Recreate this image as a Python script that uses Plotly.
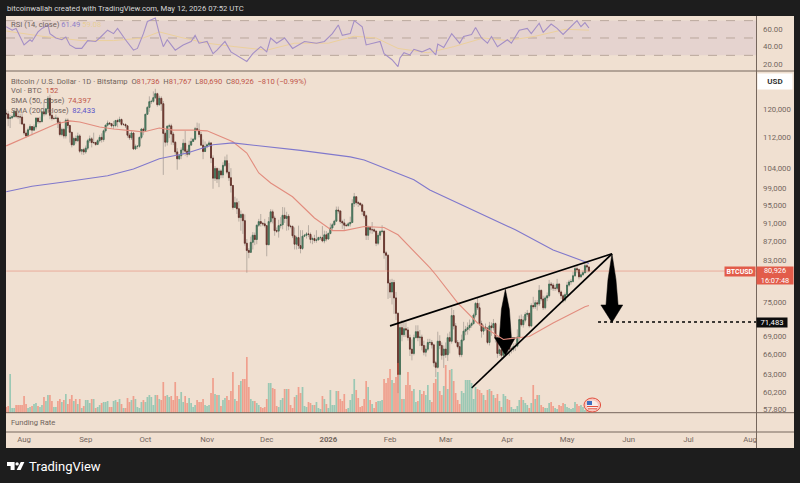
import pandas as pd
import plotly.graph_objects as go

# Prices in thousands of USD, daily from 2025-07-23 to 2026-05-12
start_date = "2025-07-23"
end_date = "2026-05-12"

open_k = [
118.9,118.7,117.4,117.6,117.9,119.4,118.0,117.9,117.8,
115.8,113.3,112.5,114.2,115.1,114.1,115.0,117.5,116.5,116.5,119.3,118.7,120.2,123.3,118.3,117.4,117.4,117.5,116.3,112.9,114.3,112.5,116.9,115.4,113.5,110.1,111.8,111.2,112.5,108.4,108.8,
108.2,109.2,111.2,111.7,110.7,110.7,110.2,111.2,112.1,111.5,113.9,115.5,116.1,115.9,115.3,115.4,116.8,116.5,117.1,115.7,115.7,115.3,112.7,112.0,113.3,109.0,109.7,109.7,112.1,114.4,
114.0,118.6,120.6,122.3,122.4,123.5,124.7,121.4,123.3,121.7,113.2,110.8,115.2,115.3,113.0,110.8,108.2,106.4,107.2,108.7,110.5,108.4,107.6,110.0,111.0,111.6,114.5,114.1,112.9,110.0,108.3,
109.6,110.1,110.6,106.6,101.5,103.9,101.3,103.3,102.3,104.7,105.9,103.0,101.6,99.7,94.5,95.6,94.2,92.2,92.9,91.5,86.6,85.1,84.7,86.8,88.3,87.4,90.5,91.3,90.9,90.8,
90.4,86.3,91.3,93.5,92.1,89.3,89.2,90.4,90.6,92.7,92.0,92.5,90.3,90.2,88.2,86.4,87.8,86.1,85.5,88.1,88.3,88.6,88.5,87.4,87.6,87.2,87.3,87.8,87.8,87.1,88.4,
87.5,88.7,89.9,90.6,91.4,93.9,93.7,91.3,91.0,90.5,90.4,90.8,91.1,95.4,97.0,95.6,95.5,95.1,93.6,92.6,88.3,90.0,89.5,89.5,89.2,86.6,88.3,89.1,89.2,84.6,84.1,
78.6,76.9,78.7,75.8,73.0,62.9,70.5,69.3,70.3,70.1,68.8,66.9,66.2,68.8,69.8,68.8,68.9,67.5,66.4,66.9,68.0,68.0,67.6,64.7,64.0,68.2,67.5,65.9,
66.9,66.0,68.8,68.2,72.6,70.8,68.0,67.3,66.0,68.4,69.9,70.2,70.5,70.9,71.2,72.7,74.8,74.0,71.2,69.9,70.6,70.4,68.0,70.8,70.5,71.2,68.7,66.2,66.8,65.9,66.7,
68.2,68.0,66.9,66.9,67.3,67.4,68.9,71.9,71.0,71.8,72.8,73.0,70.8,74.4,74.2,74.9,74.7,77.2,75.6,74.0,75.8,76.2,78.4,78.2,77.6,77.6,78.4,76.9,76.2,75.4,
76.4,78.2,78.8,78.9,80.0,81.4,81.2,79.8,80.2,80.6,82.0,81.736]

high_k = [
120.0,119.5,118.4,118.5,119.8,119.8,119.0,118.8,118.9,
116.0,114.0,114.8,115.7,115.0,115.7,117.7,117.6,117.9,119.5,122.2,120.3,124.0,124.4,119.2,118.0,118.5,117.9,116.8,114.8,114.7,117.4,117.4,115.6,113.6,112.3,112.6,113.4,113.0,109.0,109.3,
109.9,111.7,112.6,112.2,113.4,110.9,111.6,112.8,113.2,114.3,115.6,116.8,116.4,116.0,116.7,117.0,117.3,117.9,117.4,116.1,116.0,115.4,113.3,114.0,113.5,110.2,110.0,112.3,114.7,114.8,
118.7,121.0,123.9,122.9,125.4,126.2,125.0,124.1,123.9,122.5,113.7,115.4,115.9,115.9,113.6,111.0,109.2,107.5,109.4,111.6,113.9,109.0,111.2,112.0,111.9,115.0,116.2,116.0,113.6,111.5,111.0,
110.5,111.2,110.8,107.3,104.5,104.2,104.0,103.7,105.5,107.0,107.5,105.3,104.0,99.8,97.0,96.6,96.0,93.8,93.2,92.9,87.5,85.6,88.0,89.0,88.9,90.6,91.9,93.0,91.2,91.9,
90.4,92.3,94.1,94.0,92.6,90.0,91.7,92.3,94.6,94.5,93.5,93.0,90.6,90.5,90.0,88.2,90.4,89.4,89.4,88.6,89.0,90.5,88.9,88.0,88.4,89.4,88.0,88.2,90.3,89.3,89.2,
88.9,90.9,91.0,91.7,94.7,94.7,93.7,91.7,91.9,90.8,91.2,92.4,96.4,97.9,97.1,96.0,95.5,95.4,93.7,92.9,90.4,90.3,91.2,89.8,89.3,88.8,89.4,90.5,89.3,85.0,84.3,
79.3,79.4,79.2,76.9,73.2,71.4,71.8,71.5,71.4,70.6,69.3,68.5,69.3,70.9,70.9,70.1,69.3,68.3,67.5,68.6,68.6,68.4,67.8,65.0,69.8,69.2,68.0,67.5,
68.0,69.5,69.8,74.0,73.6,71.3,68.4,68.1,69.3,71.5,70.8,71.4,71.9,71.5,73.0,75.0,75.9,74.9,71.7,71.0,71.2,70.6,71.5,71.4,72.0,71.4,69.0,67.2,67.3,68.2,68.7,
69.2,68.4,67.3,67.8,67.9,70.2,72.6,72.8,72.5,73.2,73.6,73.1,74.8,76.0,75.4,75.4,78.2,77.4,76.2,76.2,76.8,79.2,78.8,78.6,78.3,79.4,78.6,77.2,76.5,76.8,
78.8,79.2,79.4,80.8,81.8,82.0,81.4,80.7,81.0,82.7,82.4,81.767]

low_k = [
117.3,115.2,114.7,117.2,117.8,117.5,117.2,115.8,115.7,
112.7,112.0,112.6,114.1,112.7,113.9,114.3,115.9,116.0,116.3,118.0,118.3,118.9,117.2,116.8,117.0,117.2,114.7,112.4,112.4,111.8,111.8,114.6,110.7,109.4,109.8,110.4,110.9,107.9,107.5,107.4,
107.7,108.7,110.6,109.4,110.3,109.8,110.0,110.7,110.7,110.9,113.4,115.1,115.6,114.8,114.4,114.9,114.9,116.2,115.3,115.3,114.7,112.0,111.4,111.4,108.7,108.7,109.0,109.3,111.6,112.7,
113.9,118.4,119.3,121.6,122.0,123.1,120.8,121.1,119.6,102.3,109.6,109.9,111.9,110.1,110.0,107.5,103.6,106.1,106.3,107.5,107.2,106.8,107.3,110.0,110.9,111.3,113.7,112.1,109.8,106.3,108.5,
109.2,109.7,105.3,98.9,100.8,100.3,99.3,101.5,101.5,104.3,102.5,100.8,98.0,94.0,94.6,93.0,91.3,89.3,88.6,86.1,80.6,83.5,84.6,85.3,86.2,86.4,90.1,90.2,90.3,90.0,
83.9,86.2,90.9,90.9,88.2,88.8,87.8,89.8,89.6,91.0,89.3,89.4,89.8,87.7,85.3,85.3,85.4,84.5,85.2,87.9,87.6,87.9,86.6,86.4,86.7,86.7,87.3,87.3,86.8,86.6,87.0,
87.4,88.5,89.3,90.4,91.3,93.1,90.8,89.7,89.5,90.2,90.2,90.2,91.0,94.6,95.0,94.6,94.9,92.8,92.0,87.3,87.3,88.7,88.6,88.9,86.0,86.2,87.3,88.7,83.4,81.1,75.6,
75.8,74.6,72.9,71.8,60.1,62.8,68.2,68.9,68.9,68.3,65.8,65.1,65.9,68.7,68.2,67.4,66.7,65.9,65.7,66.6,67.6,67.0,64.1,62.5,63.8,66.9,65.2,63.9,
65.5,65.0,66.2,67.8,70.2,67.8,67.0,65.6,65.6,68.2,69.2,69.3,70.0,70.5,71.0,72.3,73.6,70.8,68.8,69.3,70.0,67.7,67.5,69.1,70.0,68.0,65.5,65.8,65.2,65.7,66.4,
67.2,65.8,66.2,66.5,66.6,67.2,68.3,70.7,70.5,71.4,72.4,70.5,70.6,73.8,73.8,73.5,74.3,75.2,73.6,73.7,75.2,75.9,77.3,77.1,77.1,77.2,76.5,75.6,74.9,75.1,
76.1,77.9,78.3,78.7,79.8,80.5,79.3,79.6,80.0,80.4,80.6,80.69]

close_k = [
118.7,117.4,117.6,117.9,119.4,118.0,117.9,117.8,115.8,
113.3,112.5,114.2,115.1,114.1,115.0,117.5,116.5,116.5,119.3,118.7,120.2,123.3,118.3,117.4,117.4,117.5,116.3,112.9,114.3,112.5,116.9,115.4,113.5,110.1,111.8,111.2,112.5,108.4,108.8,108.2,
109.2,111.2,111.7,110.7,110.7,110.2,111.2,112.1,111.5,113.9,115.5,116.1,115.9,115.3,115.4,116.8,116.5,117.1,115.7,115.7,115.3,112.7,112.0,113.3,109.0,109.7,109.7,112.1,114.4,114.0,
118.6,120.6,122.3,122.4,123.5,124.7,121.4,123.3,121.7,113.2,110.8,115.2,115.3,113.0,110.8,108.2,106.4,107.2,108.7,110.5,108.4,107.6,110.0,111.0,111.6,114.5,114.1,112.9,110.0,108.3,109.6,
110.1,110.6,106.6,101.5,103.9,101.3,103.3,102.3,104.7,105.9,103.0,101.6,99.7,94.5,95.6,94.2,92.2,92.9,91.5,86.6,85.1,84.7,86.8,88.3,87.4,90.5,91.3,90.9,90.8,90.4,
86.3,91.3,93.5,92.1,89.3,89.2,90.4,90.6,92.7,92.0,92.5,90.3,90.2,88.2,86.4,87.8,86.1,85.5,88.1,88.3,88.6,88.5,87.4,87.6,87.2,87.3,87.8,87.8,87.1,88.4,87.5,
88.7,89.9,90.6,91.4,93.9,93.7,91.3,91.0,90.5,90.4,90.8,91.1,95.4,97.0,95.6,95.5,95.1,93.6,92.6,88.3,90.0,89.5,89.5,89.2,86.6,88.3,89.1,89.2,84.6,84.1,78.6,
76.9,78.7,75.8,73.0,62.9,70.5,69.3,70.3,70.1,68.8,66.9,66.2,68.8,69.8,68.8,68.9,67.5,66.4,66.9,68.0,68.0,67.6,64.7,64.0,68.2,67.5,65.9,66.9,
66.0,68.8,68.2,72.6,70.8,68.0,67.3,66.0,68.4,69.9,70.2,70.5,70.9,71.2,72.7,74.8,74.0,71.2,69.9,70.6,70.4,68.0,70.8,70.5,71.2,68.7,66.2,66.8,65.9,66.7,68.2,
68.0,66.9,66.9,67.3,67.4,68.9,71.9,71.0,71.8,72.8,73.0,70.8,74.4,74.2,74.9,74.7,77.2,75.6,74.0,75.8,76.2,78.4,78.2,77.6,77.6,78.4,76.9,76.2,75.4,76.4,
78.2,78.8,78.9,80.0,81.4,81.2,79.8,80.2,80.6,82.0,81.736,80.926]

# Volume, hundreds of BTC
volume_h = [
6,7,39,5,5,8,8,8,8,
17,9,5,6,7,9,10,7,6,8,16,12,18,18,12,6,6,12,14,11,13,19,9,14,18,12,14,9,14,5,7,
13,13,10,14,14,5,6,8,10,11,11,12,6,6,12,13,11,14,9,5,5,15,11,13,17,14,6,5,11,13,
11,16,18,16,8,18,18,14,13,31,17,18,16,17,13,31,17,14,21,11,17,10,15,10,6,8,13,11,11,14,8,
7,8,20,35,19,18,18,7,13,15,17,13,22,41,14,12,28,32,34,34,56,26,14,12,12,10,8,6,5,6,
14,30,30,25,24,7,6,13,15,24,24,24,8,5,16,18,26,20,26,7,6,11,10,8,8,11,5,4,17,14,9,
5,23,8,8,22,22,14,12,19,4,5,13,19,34,23,15,6,7,14,32,26,13,9,5,11,12,12,13,34,30,35,
44,33,30,36,50,38,14,14,28,41,28,22,24,11,12,23,19,22,18,28,13,11,30,34,41,22,18,27,
48,24,43,44,32,20,13,9,22,20,33,33,33,30,14,26,24,23,20,18,13,23,24,22,18,15,19,12,6,19,17,
14,13,6,4,4,7,13,16,13,10,8,5,10,28,14,18,18,8,6,5,5,10,11,7,5,4,8,7,10,9,
6,5,4,5,11,9,7,8,6,3,6,1.52]

sma50_dates = ["2025-07-23","2025-08-01","2025-08-17","2025-08-24","2025-08-29","2025-09-08","2025-09-15","2025-09-25","2025-09-30","2025-10-08","2025-10-15","2025-10-25","2025-11-01","2025-11-14","2025-11-21","2025-11-27","2025-12-03","2025-12-14","2025-12-25","2026-01-03","2026-01-09","2026-01-19","2026-01-29","2026-02-05","2026-02-16","2026-02-21","2026-02-24","2026-03-07","2026-03-17","2026-03-30","2026-04-12","2026-04-24","2026-05-10","2026-05-12"]
sma50_k = [109.8,112.0,115.8,116.7,116.4,115.0,114.4,113.9,113.6,114.7,114.1,114.1,113.9,110.9,107.9,102.8,100.3,97.0,92.1,89.3,89.3,90.2,90.0,88.4,83.8,81.6,80.2,74.9,71.3,68.5,69.0,71.3,74.2,74.397]

sma200_dates = ["2025-07-23","2025-08-05","2025-08-22","2025-09-12","2025-09-25","2025-10-08","2025-10-22","2025-11-04","2025-11-14","2025-12-03","2025-12-18","2026-01-12","2026-01-19","2026-02-13","2026-02-21","2026-04-05","2026-04-24","2026-05-10","2026-05-12"]
sma200_k = [98.2,99.5,100.6,102.1,103.8,106.4,107.9,110.1,110.6,109.5,108.6,106.9,106.1,101.1,98.6,89.5,85.2,82.8,82.433]

rsi_dates = ["2025-07-23","2025-07-26","2025-07-28","2025-07-30","2025-08-01","2025-08-04","2025-08-05","2025-08-08","2025-08-10","2025-08-13","2025-08-14","2025-08-17","2025-08-20","2025-08-22","2025-08-24","2025-08-27","2025-08-30","2025-09-02","2025-09-06","2025-09-08","2025-09-12","2025-09-15","2025-09-17","2025-09-21","2025-09-25","2025-09-27","2025-09-30","2025-10-02","2025-10-06","2025-10-08","2025-10-10","2025-10-12","2025-10-16","2025-10-20","2025-10-24","2025-10-26","2025-10-28","2025-11-01","2025-11-04","2025-11-06","2025-11-10","2025-11-13","2025-11-17","2025-11-21","2025-11-24","2025-11-28","2025-12-01","2025-12-03","2025-12-06","2025-12-10","2025-12-14","2025-12-17","2025-12-20","2025-12-26","2025-12-30","2026-01-03","2026-01-06","2026-01-08","2026-01-12","2026-01-14","2026-01-18","2026-01-20","2026-01-23","2026-01-27","2026-01-29","2026-02-02","2026-02-05","2026-02-06","2026-02-08","2026-02-11","2026-02-13","2026-02-17","2026-02-21","2026-02-24","2026-02-25","2026-02-28","2026-03-04","2026-03-08","2026-03-10","2026-03-14","2026-03-16","2026-03-19","2026-03-22","2026-03-24","2026-03-27","2026-04-01","2026-04-03","2026-04-07","2026-04-11","2026-04-13","2026-04-17","2026-04-19","2026-04-23","2026-04-26","2026-04-29","2026-05-02","2026-05-06","2026-05-08","2026-05-10","2026-05-12"]
rsi_values = [63,59,61,51.6,42,48,46,57,61,65,55,50,48,51,42,38,38,47,46,50,59,55,61,48,36,38,55,69,73,55,40,48,36,42,46,53,44,46,32,36,46,34,29,23,32,40,34,50,44,50,38,42,46,44,46,55,65,53,55,70,63,42,44,46,32,25,17,27,33,30.5,37,34,38,30.5,43,39,55,44,51.6,54,62,50,44,51.6,40,48,44,59,61,55,67,56.5,66,61,54,61,70,63,67.7,61.49]

rsi_ma_dates = ["2025-07-23","2025-08-10","2025-08-30","2025-09-15","2025-09-30","2025-10-08","2025-10-20","2025-11-01","2025-11-15","2025-12-01","2025-12-15","2026-01-01","2026-01-14","2026-01-25","2026-02-05","2026-02-20","2026-03-05","2026-03-20","2026-04-01","2026-04-15","2026-04-30","2026-05-12"]
rsi_ma_values = [58,52,47,47,50,57,50,44,40,36,44,44,52,50,38,33,40,50,47,52,60,59]

support_dates = ["2026-03-14","2026-05-23 14:00"]
support_k = [60.85,84.4]
resistance_dates = ["2026-02-01","2026-05-23 14:00"]
resistance_k = [70.8,84.4]
target_dates = ["2026-05-16 14:00","2026-08-05"]
target_k = [71.483,71.483]
arrow1_dates = ["2026-03-31","2026-04-02","2026-04-03","2026-04-05","2026-03-31","2026-03-25 14:00","2026-03-28","2026-03-29","2026-03-31"]
arrow1_k = [77.4,73.7,68.8,68.8,65.9,68.8,68.8,73.7,77.4]
arrow2_dates = ["2026-05-23 14:00","2026-05-25 14:00","2026-05-26 16:00","2026-05-29","2026-05-23 14:00","2026-05-18","2026-05-20 14:00","2026-05-21 14:00","2026-05-23 14:00"]
arrow2_k = [84.4,79.3,74.5,74.5,71.4,74.5,74.5,79.3,84.4]

last_price = 80.926

price_ticks = [120,112,104,99,95,91,87,83,75,69,66,63,60.2,57.8]
price_tick_text = ["120,000","112,000","104,000","99,000","95,000","91,000","87,000","83,000","75,000","69,000","66,000","63,000","60,200","57,800"]
rsi_ticks = [60,40,20]
rsi_tick_text = ["60.00","40.00","20.00"]
month_ticks = ["2025-08-01","2025-09-01","2025-10-01","2025-11-01","2025-12-01","2026-01-01","2026-02-01","2026-03-01","2026-04-01","2026-05-01","2026-06-01","2026-07-01","2026-08-01"]
month_text = ["Aug","Sep","Oct","Nov","Dec","<b>2026</b>","Feb","Mar","Apr","May","Jun","Jul","Aug"]

dates = pd.date_range(start_date, end_date, freq="D")
assert len(dates) == len(open_k) == len(high_k) == len(low_k) == len(close_k) == len(volume_h)


def usd(values):
    return [v * 1000 for v in values]


BG = "#f0e0d1"
DARK = "#1d1d1d"
AXIS_LINE = "#75665c"
TXT = "#73665e"
FONT = "Roboto, 'Liberation Sans', sans-serif"
W_PLOT, H_PLOT = 750, 416
L, T = 6, 16


def px(x):
    return (x - L) / W_PLOT


def py(y):
    return (T + H_PLOT - y) / H_PLOT


vol_colors = ["rgba(38,166,140,0.42)" if c >= o else "rgba(239,83,60,0.46)" for o, c in zip(open_k, close_k)]
body_top = usd([max(o, c) for o, c in zip(open_k, close_k)])
body_bottom = usd([min(o, c) for o, c in zip(open_k, close_k)])

fig = go.Figure()
fig.add_trace(go.Bar(x=dates, y=[v * 100 for v in volume_h], marker=dict(color=vol_colors, line_width=0), yaxis="y3", name="Vol"))
fig.add_trace(go.Scatter(x=[dates[0], "2026-08-05"], y=[last_price * 1000] * 2, yaxis="y2", mode="lines", line=dict(color="rgba(226,110,90,0.45)", width=1), name="Last"))
fig.add_trace(go.Scatter(x=arrow1_dates, y=usd(arrow1_k), yaxis="y2", mode="lines", fill="toself", fillcolor="#000000", line=dict(color="#000000", width=0.5), name="Arrow"))
# Pale wicks first, darker bodies drawn over them
fig.add_trace(go.Candlestick(x=dates, open=usd(open_k), high=usd(high_k), low=usd(low_k), close=usd(close_k), yaxis="y2", name="Wicks",
                             increasing=dict(line=dict(color="#a9a097", width=0.8), fillcolor="#a9a097"),
                             decreasing=dict(line=dict(color="#a9a097", width=0.8), fillcolor="#a9a097"),
                             whiskerwidth=0))
fig.add_trace(go.Candlestick(x=dates, open=usd(open_k), high=body_top, low=body_bottom, close=usd(close_k), yaxis="y2", name="BTCUSD",
                             increasing=dict(line=dict(color="#3c6b50", width=0.8), fillcolor="#5f8f74"),
                             decreasing=dict(line=dict(color="#5e2e27", width=0.8), fillcolor="#93463b"),
                             whiskerwidth=0))
fig.add_trace(go.Scatter(x=sma50_dates, y=usd(sma50_k), yaxis="y2", mode="lines", line=dict(color="#e28c7e", width=1.1), name="SMA 50"))
fig.add_trace(go.Scatter(x=sma200_dates, y=usd(sma200_k), yaxis="y2", mode="lines", line=dict(color="#8078cc", width=1.1), name="SMA 200"))
fig.add_trace(go.Scatter(x=resistance_dates, y=usd(resistance_k), yaxis="y2", mode="lines", line=dict(color="#000000", width=1.7), name="Resistance"))
fig.add_trace(go.Scatter(x=support_dates, y=usd(support_k), yaxis="y2", mode="lines", line=dict(color="#000000", width=1.7), name="Support"))
fig.add_trace(go.Scatter(x=target_dates, y=usd(target_k), yaxis="y2", mode="lines", line=dict(color="#000000", width=1.4, dash="dot"), name="Target"))
fig.add_trace(go.Scatter(x=arrow2_dates, y=usd(arrow2_k), yaxis="y2", mode="lines", fill="toself", fillcolor="#000000", line=dict(color="#000000", width=0.5), name="Arrow"))
fig.add_trace(go.Scatter(x=rsi_ma_dates, y=rsi_ma_values, yaxis="y", mode="lines", line=dict(color="#ecd09c", width=1), name="RSI MA"))
fig.add_trace(go.Scatter(x=rsi_dates, y=rsi_values, yaxis="y", mode="lines", line=dict(color="#a48fc6", width=1.1), name="RSI"))

shapes = [
    dict(type="rect", xref="paper", yref="paper", x0=px(6), x1=px(794), y0=py(16), y1=py(448), fillcolor=BG, line_width=0, layer="below"),
    dict(type="rect", xref="paper", yref="y", x0=0, x1=1, y0=30, y1=70, fillcolor="rgba(126,87,194,0.09)", line_width=0, layer="below"),
]
for level in (70, 50, 30):
    shapes.append(dict(type="line", xref="paper", yref="y", x0=0, x1=1, y0=level, y1=level, line=dict(color="#b4a196", width=0.9, dash="dash"), layer="below"))
for y in (71, 412.7, 432):
    shapes.append(dict(type="line", xref="paper", yref="paper", x0=px(6), x1=px(794), y0=py(y), y1=py(y), line=dict(color=AXIS_LINE, width=1)))
shapes.append(dict(type="line", xref="paper", yref="paper", x0=px(756.5), x1=px(756.5), y0=py(16), y1=py(448), line=dict(color=AXIS_LINE, width=1)))

# Event flag badge
shapes += [
    dict(type="circle", xref="paper", yref="paper", x0=px(584), x1=px(600.6), y0=py(412), y1=py(398), fillcolor="#f6c5bd", line=dict(color="#e2503f", width=1)),
    dict(type="circle", xref="paper", yref="paper", x0=px(586.5), x1=px(598), y0=py(410), y1=py(400.5), fillcolor="#f7ece8", line_width=0),
    dict(type="rect", xref="paper", yref="paper", x0=px(587), x1=px(592), y0=py(405), y1=py(401), fillcolor="#3d6fc0", line_width=0),
    dict(type="line", xref="paper", yref="paper", x0=px(587), x1=px(598), y0=py(406.5), y1=py(406.5), line=dict(color="#e2503f", width=1)),
    dict(type="line", xref="paper", yref="paper", x0=px(588), x1=px(597), y0=py(408.8), y1=py(408.8), line=dict(color="#e2503f", width=1)),
]

# TradingView logo mark
logo = [
    [(7, 462), (14.6, 462), (14.6, 470), (10.6, 470), (10.6, 466), (7, 466)],
    [(20.8, 462), (24.4, 462), (20.6, 470), (16.6, 470)],
]
for poly in logo:
    path = "M " + " L ".join(f"{px(a):.5f},{py(b):.5f}" for a, b in poly) + " Z"
    shapes.append(dict(type="path", xref="paper", yref="paper", path=path, fillcolor="#ffffff", line_width=0))
shapes.append(dict(type="circle", xref="paper", yref="paper", x0=px(15.4), x1=px(18.8), y0=py(465.6), y1=py(462.2), fillcolor="#ffffff", line_width=0))

RED = "#c0564a"
BLUE = "#5b55c8"
GREY = "#6f625b"


def label(x, y, text, size=7.6, color=GREY, xanchor="left", bg=None, **kw):
    return dict(xref="paper", yref="paper", x=px(x), y=py(y), text=text, showarrow=False, xanchor=xanchor, yanchor="middle",
                font=dict(family=FONT, size=size, color=color), bgcolor=bg, borderpad=0, **kw)


annotations = [
    label(6, 9, "bitcoinwallah created with TradingView.com, May 12, 2026 07:52 UTC", size=7.7, color="#d8d8d8"),
    label(10, 24.5, "RSI (14, close) <span style='color:#8d80c8'>61.49</span> <span style='color:#e8cf98'>59.08</span>", size=7.6),
    label(10, 81, f"Bitcoin / U.S. Dollar · 1D · Bitstamp  O<span style='color:{RED}'>81,736</span>  H<span style='color:{RED}'>81,767</span>  L<span style='color:{RED}'>80,690</span>  C<span style='color:{RED}'>80,926</span>  <span style='color:{RED}'>−810 (−0.99%)</span>", size=7.6),
    label(10, 90.5, f"Vol · BTC  <span style='color:{RED}'>152</span>", size=7.6),
    label(10, 100.5, f"SMA (50, close)  <span style='color:{RED}'>74,397</span>", size=7.6),
    label(10, 110.5, f"SMA (200, close)  <span style='color:{BLUE}'>82,433</span>", size=7.6),
    label(10, 422, "Funding Rate", size=7.6),
    label(775, 81.5, "<b>USD</b>", size=8, color="#333333", xanchor="center", bg="#ffffff", width=34, height=15),
    label(740, 271.5, "<b>BTCUSD</b>", size=7, color="#ffffff", xanchor="center", bg="#e25c4a", width=30, height=9),
    label(774.5, 275, "80,926<br>16:07:48", size=7.4, color="#ffffff", xanchor="center", bg="#e25c4a", width=36, height=17),
    label(771.5, 322.2, "71,483", size=7.6, color="#ffffff", xanchor="center", bg="#0d0d0d", width=30, height=9),
    label(28, 466, "TradingView", size=13, color="#ffffff"),
]

fig.update_layout(
    width=800, height=483, autosize=False,
    margin=dict(l=L, r=800 - L - W_PLOT, t=T, b=483 - T - H_PLOT, pad=0),
    paper_bgcolor=DARK, plot_bgcolor="rgba(0,0,0,0)",
    showlegend=False, bargap=0.14, hovermode=False,
    font=dict(family=FONT, size=8, color=TXT),
    shapes=shapes, annotations=annotations,
    xaxis=dict(range=["2025-07-22 22:00", "2026-08-04 00:00"], type="date", rangeslider=dict(visible=False), tickmode="array",
               tickvals=month_ticks, ticktext=month_text, showgrid=False, zeroline=False, ticks="", showline=False,
               anchor="free", position=0,
               tickfont=dict(family=FONT, size=7.8, color=TXT), ticklabelstandoff=1),
    yaxis=dict(domain=[py(71), 1], range=[12, 75.3], side="right", tickmode="array", tickvals=rsi_ticks, ticktext=rsi_tick_text,
               showgrid=False, zeroline=False, ticks="", tickfont=dict(family=FONT, size=7.8, color=TXT), ticklabelstandoff=6),
    yaxis2=dict(domain=[py(413), py(71)], type="log", range=[4.7578, 5.1199], side="right", tickmode="array", tickvals=usd(price_ticks), ticktext=price_tick_text,
                showgrid=False, zeroline=False, ticks="", tickfont=dict(family=FONT, size=7.8, color=TXT), ticklabelstandoff=6),
    yaxis3=dict(domain=[py(413), py(71)], overlaying="y2", range=[0, 34200], visible=False),
)

fig.write_html("out.html", config=dict(displayModeBar=False),
               post_script="document.body.style.margin='0';document.body.style.background='#1d1d1d';document.body.style.overflow='hidden';")
